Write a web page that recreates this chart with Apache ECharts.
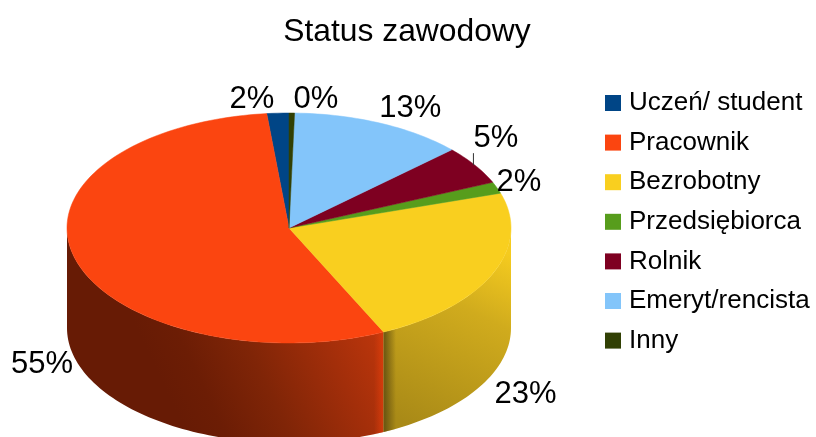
<!DOCTYPE html>
<html>
<head>
<meta charset="utf-8">
<style>
  html, body { margin: 0; padding: 0; background: #fff; }
  #chart { width: 816px; height: 437px; }
</style>
<script src="https://cdn.jsdelivr.net/npm/echarts@6/dist/echarts.min.js"></script>
</head>
<body>
<div id="chart"></div>
<script>
const categories = ['Uczeń/ student', 'Pracownik', 'Bezrobotny', 'Przedsiębiorca', 'Rolnik', 'Emeryt/rencista', 'Inny']
const shares = [1.6, 55.4, 22.9, 1.6, 5.4, 12.7, 0.4]
const colors = ['#004586', '#fb4510', '#f9cf1f', '#579d1c', '#7e0021', '#83c5fa', '#314004']

// label nudges from the rim point of each slice
const labelNudge = [[-26, -14], [-33, 6], [33, 20], [22, -5], [21, -27], [30, -15], [24, -14]]
const leaderLen = [0, 0, 0, 0, 12, 0, 0]

const pie = { cx: 289, cy: 228, rx: 222, ry: 115, depth: 100 }
const total = shares.reduce((a, b) => a + b, 0)

function rim (deg, drop) {
  // deg runs counterclockwise from the top of the ellipse
  const a = deg * Math.PI / 180
  return [pie.cx - pie.rx * Math.sin(a), pie.cy - pie.ry * Math.cos(a) + (drop || 0)]
}

function arc (from, to, drop) {
  const pts = []
  const n = Math.max(2, Math.ceil(Math.abs(to - from) / 1.5))
  for (let i = 0; i <= n; i++) {
    pts.push(rim(from + (to - from) * i / n, drop))
  }
  return pts
}

function grad (x, y, x2, y2, stops) {
  return {
    type: 'linear',
    global: true,
    x: x,
    y: y,
    x2: x2,
    y2: y2,
    colorStops: stops.map(s => ({ offset: s[0], color: s[1] }))
  }
}

// shading of the two visible walls
const wallFills = {
  Pracownik: [
    grad(395, 330, 185, 430, [[0, '#c4380c'], [0.3, '#a22e0a'], [0.6, '#802507'], [0.85, '#6c1d05'], [1, '#671b05']]),
    grad(374, 0, 386, 0, [[0, 'rgba(226,62,12,0)'], [1, 'rgba(226,62,12,0.9)']])
  ],
  Bezrobotny: [
    grad(512, 255, 425, 432, [[0, '#f5cb1f'], [0.35, '#d0ab1d'], [1, '#a98a17']]),
    grad(385, 0, 396, 0, [[0, 'rgba(90,72,16,0.75)'], [1, 'rgba(90,72,16,0)']])
  ]
}

function renderSlice (idx) {
  return function (params, api) {
    const value = api.value(0)
    const before = shares.slice(0, idx).reduce((a, b) => a + b, 0)
    const start = before / total * 360
    const end = (before + value) / total * 360
    const mid = (start + end) / 2
    const children = []

    // wall: only the front half of the rim (90..270) can be seen
    const wallFrom = Math.max(start, 90)
    const wallTo = Math.min(end, 270)
    if (wallTo > wallFrom && wallFills[categories[idx]]) {
      const pts = arc(wallFrom, wallTo, 0).concat(arc(wallTo, wallFrom, pie.depth))
      wallFills[categories[idx]].forEach(fill => {
        children.push({ type: 'polygon', shape: { points: pts }, style: { fill: fill } })
      })
    }

    children.push({
      type: 'polygon',
      shape: { points: [[pie.cx, pie.cy]].concat(arc(start, end, 0)) },
      style: { fill: colors[idx], stroke: colors[idx], lineWidth: 0.5 }
    })

    const front = mid > 90 && mid < 270
    const p = rim(mid, front ? pie.depth : 0)
    const nudge = labelNudge[idx]
    if (leaderLen[idx]) {
      children.push({
        type: 'line',
        shape: { x1: p[0] - 1.5, y1: p[1], x2: p[0] - 1.5, y2: p[1] - leaderLen[idx] },
        style: { stroke: '#333', lineWidth: 1 }
      })
    }
    children.push({
      type: 'text',
      z2: 10,
      style: {
        text: Math.round(value) + '%',
        x: p[0] + nudge[0],
        y: p[1] + nudge[1],
        textAlign: 'center',
        textVerticalAlign: 'middle',
        fontFamily: 'Liberation Sans',
        fontSize: 31,
        fill: '#000'
      }
    })
    return { type: 'group', children: children }
  }
}

const series = categories.map((name, i) => ({
  type: 'custom',
  name: name,
  coordinateSystem: 'none',
  silent: true,
  z: 2,
  itemStyle: { color: colors[i] },
  renderItem: renderSlice(i),
  data: [[shares[i]]]
}))

const chart = echarts.init(document.getElementById('chart'), null, { renderer: 'canvas' })
chart.setOption({
  animation: false,
  backgroundColor: '#fff',
  title: {
    text: 'Status zawodowy',
    left: 402,
    top: 11,
    textAlign: 'center',
    textStyle: { fontFamily: 'Liberation Sans', fontSize: 31.8, fontWeight: 'normal', color: '#000' }
  },
  legend: {
    orient: 'vertical',
    left: 605,
    top: 90,
    padding: 0,
    icon: 'rect',
    itemWidth: 16,
    itemHeight: 16,
    itemGap: 13.6,
    selectedMode: false,
    data: categories,
    textStyle: { fontFamily: 'Liberation Sans', fontSize: 26, color: '#000', padding: [0, 0, 0, 3] }
  },
  series: series
})
</script>
</body>
</html>
